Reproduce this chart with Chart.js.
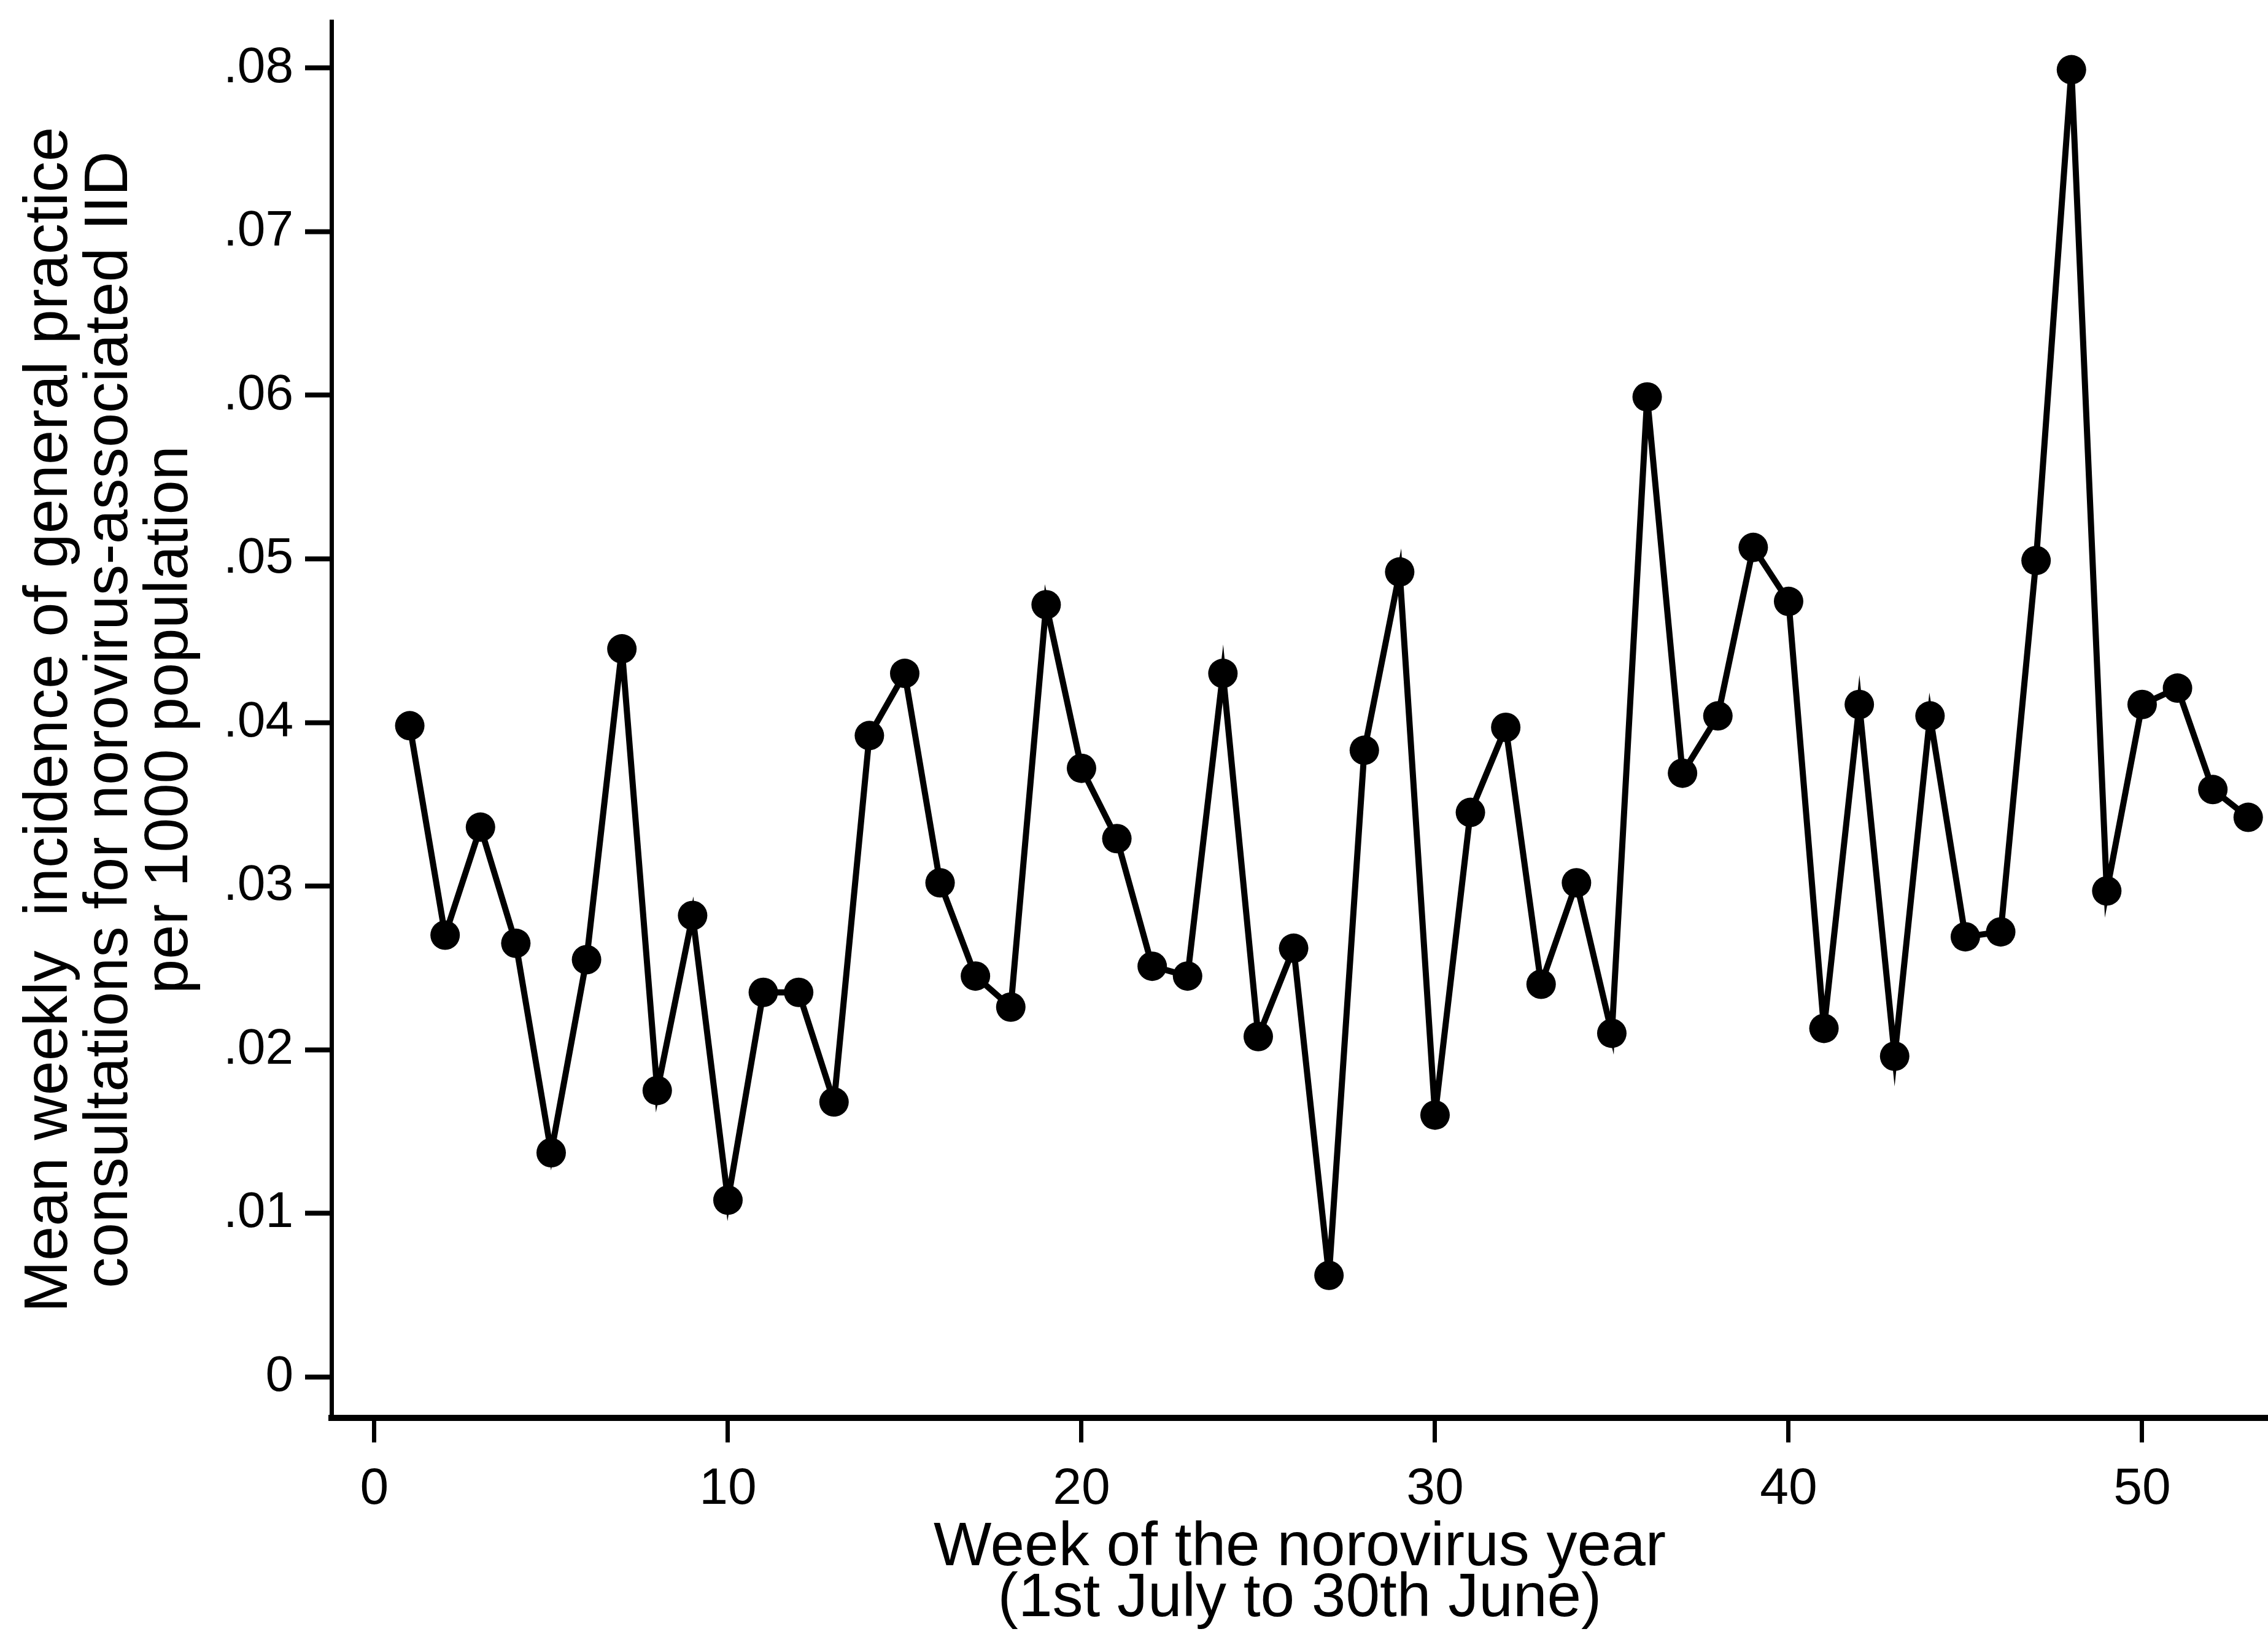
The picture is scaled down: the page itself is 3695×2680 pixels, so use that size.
<!DOCTYPE html>
<html>
<head>
<meta charset="utf-8">
<title>Norovirus-associated IID consultations by week</title>
<script src="https://cdn.jsdelivr.net/npm/chart.js@4.4.1/dist/chart.umd.min.js"></script>
<style>
  html, body { margin: 0; padding: 0; background: #fff; }
  canvas { display: block; }
</style>
</head>
<body>
<canvas id="lineChart" width="3695" height="2680"></canvas>
<script>
// week of the norovirus year (week 1 = first week of July)
var weeks = [
  1, 2, 3, 4, 5, 6, 7, 8, 9, 10,
  11, 12, 13, 14, 15, 16, 17, 18, 19, 20,
  21, 22, 23, 24, 25, 26, 27, 28, 29, 30,
  31, 32, 33, 34, 35, 36, 37, 38, 39, 40,
  41, 42, 43, 44, 45, 46, 47, 48, 49, 50,
  51, 52, 53
];
// mean weekly incidence per 1000 population
var incidence = [
  0.0398, 0.0270, 0.0336, 0.0265, 0.0137, 0.0255, 0.0445, 0.0175, 0.0282, 0.0108,
  0.0235, 0.0235, 0.0168, 0.0392, 0.0430, 0.0302, 0.0245, 0.0226, 0.0472, 0.0372,
  0.0329, 0.0251, 0.0245, 0.0430, 0.0208, 0.0262, 0.0062, 0.0383, 0.0492, 0.0160,
  0.0345, 0.0397, 0.0240, 0.0302, 0.0210, 0.0599, 0.0369, 0.0404, 0.0507, 0.0474,
  0.0213, 0.0411, 0.0196, 0.0404, 0.0269, 0.0272, 0.0499, 0.0799, 0.0297, 0.0411,
  0.0421, 0.0359, 0.0342
];
var xTicks = [0, 10, 20, 30, 40, 50];
var yTicks = [0, 0.01, 0.02, 0.03, 0.04, 0.05, 0.06, 0.07, 0.08];
var yTickLabels = ['0', '.01', '.02', '.03', '.04', '.05', '.06', '.07', '.08'];

var xTitle = ['Week of the norovirus year', '(1st July to 30th June)'];
var yTitle = [
  'Mean weekly  incidence of general practice',
  'consultations for norovirus-associated IID',
  'per 1000 population'
];

var sans = "'Liberation Sans', Arial, Helvetica, sans-serif";

var points = weeks.map(function(w, i) { return { x: w, y: incidence[i] }; });

var ctx = document.getElementById('lineChart').getContext('2d');
var chart = new Chart(ctx, {
  type: 'line',
  data: {
    datasets: [{
      data: points,
      borderColor: '#000',
      borderWidth: 10,
      tension: 0,
      fill: false,
      pointRadius: 24,
      pointHoverRadius: 24,
      pointBackgroundColor: '#000',
      pointBorderColor: '#000',
      pointBorderWidth: 0,
      clip: false
    }]
  },
  options: {
    responsive: false,
    devicePixelRatio: 1,
    animation: false,
    layout: { autoPadding: false, padding: { top: 35, left: 0, right: 0, bottom: 0 } },
    plugins: {
      legend: { display: false },
      tooltip: { enabled: false }
    },
    scales: {
      x: {
        type: 'linear',
        min: -1.215,
        max: 53.56,
        grid: {
          drawOnChartArea: false,
          drawTicks: true,
          tickLength: 40,
          tickWidth: 7,
          tickColor: '#000'
        },
        border: { display: true, color: '#000', width: 10 },
        ticks: {
          color: '#000',
          padding: 35,
          font: { family: sans, size: 84, lineHeight: 1 },
          callback: function(value) { return String(value); }
        },
        afterBuildTicks: function(axis) {
          axis.ticks = xTicks.map(function(v) { return { value: v }; });
        },
        title: {
          display: true,
          text: xTitle,
          color: '#000',
          padding: { top: 0, bottom: 33 },
          font: { family: sans, size: 100, lineHeight: 0.83 }
        },
        afterFit: function(scale) {
          scale.height = 370;
          scale.paddingLeft = 0;
          scale.paddingRight = 0;
        }
      },
      y: {
        type: 'linear',
        min: -0.00251,
        max: 0.08285,
        grid: {
          drawOnChartArea: false,
          drawTicks: true,
          tickLength: 43,
          tickWidth: 8,
          tickColor: '#000'
        },
        border: { display: true, color: '#000', width: 7 },
        ticks: {
          color: '#000',
          padding: 19,
          font: { family: sans, size: 82, lineHeight: 1 },
          callback: function(value, index) { return yTickLabels[index]; }
        },
        afterBuildTicks: function(axis) {
          axis.ticks = yTicks.map(function(v) { return { value: v }; });
        },
        title: {
          display: true,
          text: yTitle,
          color: '#000',
          padding: { top: 32, bottom: 0 },
          font: { family: sans, size: 101, lineHeight: 0.97 }
        },
        afterFit: function(scale) {
          scale.width = 540;
          scale.paddingTop = 0;
          scale.paddingBottom = 0;
        }
      }
    }
  }
});
</script>
</body>
</html>
